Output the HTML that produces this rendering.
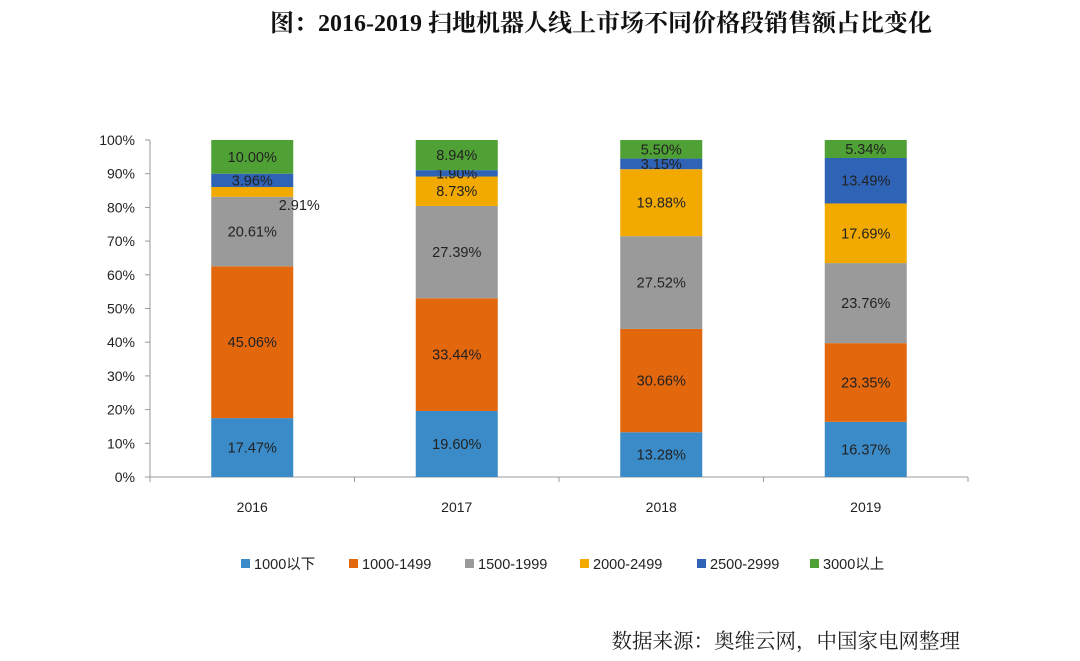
<!DOCTYPE html>
<html><head><meta charset="utf-8"><style>
body{margin:0;background:#fff;width:1080px;height:661px;overflow:hidden}
svg{display:block}
text{font-family:"Liberation Sans","Noto Sans CJK SC",sans-serif}
</style></head><body>
<svg id="chart" width="1080" height="661">
<text x="601" y="31" text-anchor="middle" font-size="24" font-weight="bold" style='font-family:"Liberation Serif","Noto Serif CJK SC",serif' fill="#111">图：2016-2019 扫地机器人线上市场不同价格段销售额占比变化</text>
<text x="960" y="648" text-anchor="end" font-size="20.5" style='font-family:"Liberation Serif","Noto Serif CJK SC",serif' fill="#222">数据来源：奥维云网，中国家电网整理</text>
</svg>
<script>
const categories=["2016","2017","2018","2019"];
const seriesNames=["1000以下","1000-1499","1500-1999","2000-2499","2500-2999","3000以上"];
const seriesColors=["#3b8bc8","#e2670d","#9a9a9a","#f2aa00","#2f63b6","#4fa136"];
const s1000below=[17.47,19.60,13.28,16.37];
const s1000_1499=[45.06,33.44,30.66,23.35];
const s1500_1999=[20.61,27.39,27.52,23.76];
const s2000_2499=[2.91,8.73,19.88,17.69];
const s2500_2999=[3.96,1.90,3.15,13.49];
const s3000up=[10.00,8.94,5.50,5.34];
const yTicks=[0,10,20,30,40,50,60,70,80,90,100];
const series=[s1000below,s1000_1499,s1500_1999,s2000_2499,s2500_2999,s3000up];
const NS="http://www.w3.org/2000/svg";
const svg=document.getElementById('chart');
const x0=150,plotW=818,y0=477,yTop=140;
const y=v=>y0-(v/100)*(y0-yTop);
const band=plotW/categories.length;
const xc=i=>x0+band*(i+0.5);
const bw=82;
function el(t,a){const e=document.createElementNS(NS,t);for(const k in a)e.setAttribute(k,a[k]);svg.appendChild(e);return e;}
let ax=el('line',{x1:x0,y1:yTop,x2:x0,y2:y0,stroke:'#999'});


let bx=el('line',{x1:x0,y1:y0,x2:x0+plotW,y2:y0,stroke:'#999'});


yTicks.forEach(t=>{
 let tk=el('line',{x1:x0-5,y1:y(t),x2:x0,y2:y(t),stroke:'#999'});
 
 
 let tl=el('text',{x:x0-15,y:y(t)+5,'text-anchor':'end','font-size':14,fill:'#222'});
 tl.textContent=t+'%';
 
 
});
for(let i=0;i<=categories.length;i++){
 let tk=el('line',{x1:x0+band*i,y1:y0,x2:x0+band*i,y2:y0+5,stroke:'#999'});
 
 
}
categories.forEach((c,i)=>{
 let cum=0;
 series.forEach((s,k)=>{
  const v=s[i];
  const r=el('rect',{x:xc(i)-bw/2,y:y(cum+v),width:bw,height:y(cum)-y(cum+v),fill:seriesColors[k]});
  
  
  let lx=xc(i),ly=(y(cum)+y(cum+v))/2+5;
  if(k===3&&v<3){lx=xc(i)+47;ly=y(cum+v)+23;}
  const t=el('text',{x:lx,y:ly,'text-anchor':'middle','font-size':14.5,fill:'#222'});
  t.textContent=v.toFixed(2)+'%';
  
  
  cum+=v;
 });
 const xl=el('text',{x:xc(i),y:512,'text-anchor':'middle','font-size':14,fill:'#222'});
 xl.textContent=c;
 
 
});
const legX=[241,349,465,580,697,810];
seriesNames.forEach((n,k)=>{
 const sq=el('rect',{x:legX[k],y:559,width:9,height:9,fill:seriesColors[k]});
 
 
 const t=el('text',{x:legX[k]+13,y:569,'font-size':14.5,fill:'#222'});
 t.textContent=n;
 
 
});
</script>
</body></html>
